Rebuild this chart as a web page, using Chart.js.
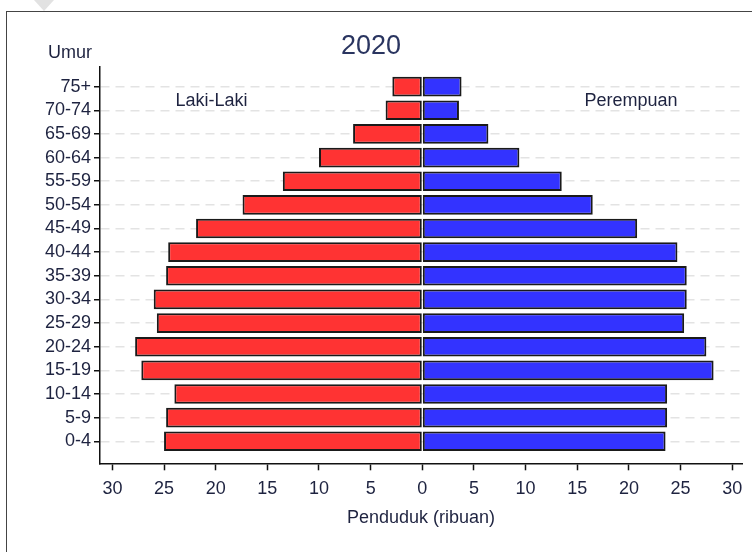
<!DOCTYPE html>
<html>
<head>
<meta charset="utf-8">
<script src="https://cdn.jsdelivr.net/npm/chart.js@4.4.0/dist/chart.umd.min.js"></script>
<style>
  html, body { margin: 0; padding: 0; background: #fff; }
  #wrap { position: relative; width: 752px; height: 552px; overflow: hidden; background: #fff; }
  #frame { position: absolute; left: 6px; top: 11px; width: 760px; height: 560px;
           border-left: 1.5px solid #444; border-top: 1.5px solid #444; }
  #tri { position: absolute; left: 34px; top: 0; width: 0; height: 0;
         border-left: 10px solid transparent; border-right: 10px solid transparent; border-top: 11px solid #e2e2e2; }
  #c { position: absolute; left: 0; top: 0; }
</style>
</head>
<body>
<div id="wrap">
  <div id="frame"></div>
  <div id="tri"></div>
  <canvas id="c" width="752" height="552"></canvas>
</div>
<script>
// ---- data (bottom to top) ----
const ageGroups = ['0-4','5-9','10-14','15-19','20-24','25-29','30-34','35-39','40-44','45-49','50-54','55-59','60-64','65-69','70-74','75+'];
const maleValues = [25.0, 24.8, 24.0, 27.2, 27.8, 25.7, 26.0, 24.8, 24.6, 21.9, 17.4, 13.5, 10.0, 6.7, 3.55, 2.9];
const femaleValues = [23.55, 23.7, 23.7, 28.2, 27.5, 25.35, 25.6, 25.6, 24.7, 20.8, 16.5, 13.5, 9.4, 6.4, 3.55, 3.8];
const chartTitle = '2020';
const xAxisTitle = 'Penduduk (ribuan)';
const yAxisTitle = 'Umur';
const maleLabel = 'Laki-Laki';
const femaleLabel = 'Perempuan';

const FONT = '"Liberation Sans", Arial, sans-serif';
const TXT = '#1e2340';
const FS = 18;

const textPlugin = {
  id: 'sideText',
  afterDraw(chart) {
    const {ctx, chartArea, scales} = chart;
    ctx.save();
    ctx.fillStyle = TXT;
    ctx.font = FS + 'px ' + FONT;
    ctx.textAlign = 'center';
    ctx.textBaseline = 'middle';
    ctx.fillText(yAxisTitle, chartArea.left - 30, chartArea.top - 14);
    const yy = scales.y.getPixelForValue(14.38);
    ctx.fillText(maleLabel, scales.x.getPixelForValue(-20.4), yy);
    ctx.fillText(femaleLabel, scales.x.getPixelForValue(20.2), yy);
    ctx.restore();
  }
};

new Chart(document.getElementById('c'), {
  type: 'bar',
  data: {
    datasets: [
      {
        label: maleLabel,
        data: maleValues.map((v, i) => ({x: -v, y: i})),
        backgroundColor: '#ff3333',
        borderColor: '#1a1a1a',
        borderWidth: 2,
        borderSkipped: false
      },
      {
        label: femaleLabel,
        data: femaleValues.map((v, i) => ({x: v, y: i})),
        backgroundColor: '#3333ff',
        borderColor: '#1a1a1a',
        borderWidth: 2,
        borderSkipped: false
      }
    ]
  },
  options: {
    indexAxis: 'y',
    responsive: false,
    animation: false,
    devicePixelRatio: 1,
    barPercentage: 0.83,
    categoryPercentage: 1.0,
    layout: { padding: { left: 0, right: 10, top: 0, bottom: 23.5 } },
    plugins: {
      legend: { display: false },
      tooltip: { enabled: false },
      title: {
        display: true,
        text: chartTitle,
        color: '#2a3560',
        font: { family: FONT, size: 27, weight: 'normal' },
        padding: { top: 30.8, bottom: 3.8 }
      }
    },
    scales: {
      x: {
        type: 'linear',
        min: -31.2,
        max: 30.95,
        stacked: true,
        ticks: {
          stepSize: 5,
          includeBounds: false,
          color: TXT,
          padding: 7.5,
          maxRotation: 0,
          font: { family: FONT, size: FS },
          callback: v => Math.abs(v)
        },
        grid: { display: true, drawOnChartArea: false, drawTicks: true, tickLength: 7, tickColor: '#111', tickWidth: 1.5 },
        border: { display: true, color: '#111', width: 1.5 },
        title: {
          display: true,
          text: xAxisTitle,
          color: TXT,
          font: { family: FONT, size: FS },
          padding: { top: 0, bottom: 0 }
        }
      },
      y: {
        type: 'linear',
        min: -0.93,
        max: 15.83,
        stacked: true,
        offset: false,
        afterFit: s => { s.width = 100; },
        afterBuildTicks: s => {
          s.ticks = ageGroups.map((_, i) => ({value: i}));
        },
        ticks: {
          stepSize: 1,
          color: TXT,
          padding: 3,
          font: { family: FONT, size: FS },
          callback: v => ageGroups[v]
        },
        grid: { display: true, offset: false, drawOnChartArea: true, drawTicks: true, tickLength: 6,
                color: '#e3e3e3', lineWidth: 1.5, tickColor: '#111', tickWidth: 1.5, tickBorderDash: [] },
        border: { display: true, color: '#111', width: 1.5, dash: [9, 6] }
      }
    }
  },
  plugins: [textPlugin]
});
</script>
</body>
</html>
